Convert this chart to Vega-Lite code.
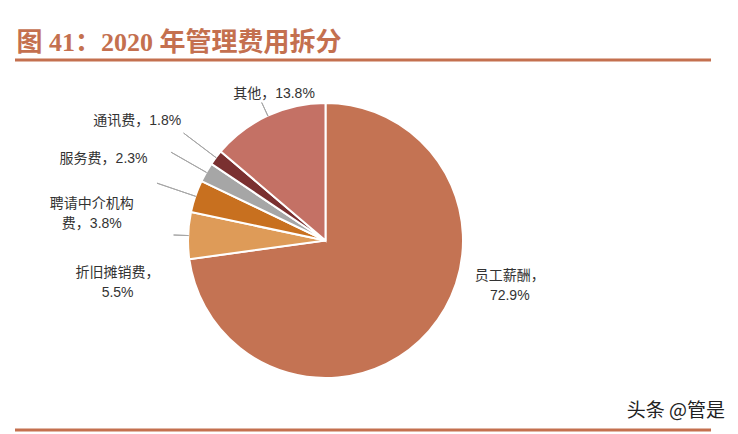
{
  "$schema": "https://vega.github.io/schema/vega-lite/v6.json",
  "width": 621,
  "height": 361,
  "autosize": {"type": "none"},
  "padding": {"left": 15, "top": 60, "right": 102, "bottom": 13},
  "background": "#ffffff",
  "config": {"view": {"stroke": null}},
  "title": {
    "text": "图 41：2020 年管理费用拆分",
    "anchor": "start",
    "font": "Liberation Serif, Noto Sans CJK SC",
    "fontSize": 26,
    "fontWeight": "bold",
    "color": "#C4704F",
    "offset": 4,
    "dx": 3,
    "dy": 6
  },
  "layer": [
    {
      "data": {
        "values": [
          {"cat": "员工薪酬", "share": 72.9, "idx": 1, "label": "员工薪酬，\n72.9%"},
          {"cat": "折旧摊销费", "share": 5.5, "idx": 2, "label": "折旧摊销费，\n5.5%"},
          {"cat": "聘请中介机构费", "share": 3.8, "idx": 3, "label": "聘请中介机构\n费，3.8%"},
          {"cat": "服务费", "share": 2.3, "idx": 4, "label": "服务费，2.3%"},
          {"cat": "通讯费", "share": 1.8, "idx": 5, "label": "通讯费，1.8%"},
          {"cat": "其他", "share": 13.8, "idx": 6, "label": "其他，13.8%"}
        ]
      },
      "encoding": {
        "theta": {"field": "share", "type": "quantitative", "stack": true},
        "order": {"field": "idx", "type": "quantitative"},
        "detail": {"field": "cat", "type": "nominal"}
      },
      "layer": [
        {
          "mark": {"type": "arc", "radius": 137.5, "stroke": "#ffffff", "strokeWidth": 2},
          "encoding": {
            "color": {
              "field": "cat",
              "type": "nominal",
              "scale": {
                "domain": ["员工薪酬", "折旧摊销费", "聘请中介机构费", "服务费", "通讯费", "其他"],
                "range": ["#C47353", "#DE9B58", "#C8701F", "#A6A6A6", "#7A3030", "#C47165"]
              },
              "legend": null
            }
          }
        },
        {
          "mark": {"type": "arc", "radius": 178, "radius2": 137, "padAngle": 3.1, "filled": false, "color": "#A6A6A6", "strokeWidth": 1},
          "encoding": {
            "strokeOpacity": {"condition": {"test": "datum.cat === '通讯费' || datum.cat === '服务费' || datum.cat === '聘请中介机构费'", "value": 1}, "value": 0}
          }
        },
        {
          "mark": {"type": "arc", "radius": 152, "radius2": 137, "padAngle": 3.1, "filled": false, "color": "#A6A6A6", "strokeWidth": 1},
          "encoding": {
            "strokeOpacity": {"condition": {"test": "datum.cat === '其他' || datum.cat === '折旧摊销费'", "value": 1}, "value": 0}
          }
        },
        {
          "mark": {"type": "text", "radius": 137, "dx": 81, "dy": -55, "align": "center", "baseline": "middle", "lineBreak": "\n", "lineHeight": 20, "fontSize": 14, "font": "Liberation Sans, Noto Sans CJK SC", "color": "#333333"},
          "encoding": {"text": {"condition": {"test": "datum.cat === '员工薪酬'", "field": "label"}, "value": ""}}
        },
        {
          "mark": {"type": "text", "radius": 137, "dx": -71, "dy": 37, "align": "center", "baseline": "middle", "lineBreak": "\n", "lineHeight": 20, "fontSize": 14, "font": "Liberation Sans, Noto Sans CJK SC", "color": "#333333"},
          "encoding": {"text": {"condition": {"test": "datum.cat === '折旧摊销费'", "field": "label"}, "value": ""}}
        },
        {
          "mark": {"type": "text", "radius": 137, "dx": -104, "dy": 8, "align": "center", "baseline": "middle", "lineBreak": "\n", "lineHeight": 20, "fontSize": 14, "font": "Liberation Sans, Noto Sans CJK SC", "color": "#333333"},
          "encoding": {"text": {"condition": {"test": "datum.cat === '聘请中介机构费'", "field": "label"}, "value": ""}}
        },
        {
          "mark": {"type": "text", "radius": 137, "dx": -103, "dy": -13, "align": "center", "baseline": "middle", "fontSize": 14, "font": "Liberation Sans, Noto Sans CJK SC", "color": "#333333"},
          "encoding": {"text": {"condition": {"test": "datum.cat === '服务费'", "field": "label"}, "value": ""}}
        },
        {
          "mark": {"type": "text", "radius": 137, "dx": -79, "dy": -37, "align": "center", "baseline": "middle", "fontSize": 14, "font": "Liberation Sans, Noto Sans CJK SC", "color": "#333333"},
          "encoding": {"text": {"condition": {"test": "datum.cat === '通讯费'", "field": "label"}, "value": ""}}
        },
        {
          "mark": {"type": "text", "radius": 137, "dx": 6, "dy": -22, "align": "center", "baseline": "middle", "fontSize": 14, "font": "Liberation Sans, Noto Sans CJK SC", "color": "#333333"},
          "encoding": {"text": {"condition": {"test": "datum.cat === '其他'", "field": "label"}, "value": ""}}
        }
      ]
    },
    {
      "data": {"values": [{}]},
      "mark": {"type": "rule", "color": "#C4704F", "strokeWidth": 3},
      "encoding": {
        "x": {"datum": 0, "type": "quantitative", "scale": {"domain": [0, 1]}, "axis": null},
        "x2": {"datum": 1.1208},
        "y": {"datum": 1, "type": "quantitative", "scale": {"domain": [0, 1]}, "axis": null}
      }
    },
    {
      "data": {"values": [{}]},
      "mark": {"type": "rule", "color": "#C4704F", "strokeWidth": 3},
      "encoding": {
        "x": {"datum": 0, "type": "quantitative", "scale": {"domain": [0, 1]}, "axis": null},
        "x2": {"datum": 1.1208},
        "y": {"datum": -0.0249, "type": "quantitative", "scale": {"domain": [0, 1]}, "axis": null}
      }
    },
    {
      "data": {"values": [{"note": "头条 @管是"}]},
      "mark": {"type": "text", "align": "right", "baseline": "middle", "fontSize": 19, "font": "Noto Sans CJK SC", "color": "#222222"},
      "encoding": {
        "text": {"field": "note"},
        "x": {"datum": 1.1433, "type": "quantitative", "scale": {"domain": [0, 1]}, "axis": null},
        "y": {"datum": 0.0277, "type": "quantitative", "scale": {"domain": [0, 1]}, "axis": null}
      }
    }
  ]
}
